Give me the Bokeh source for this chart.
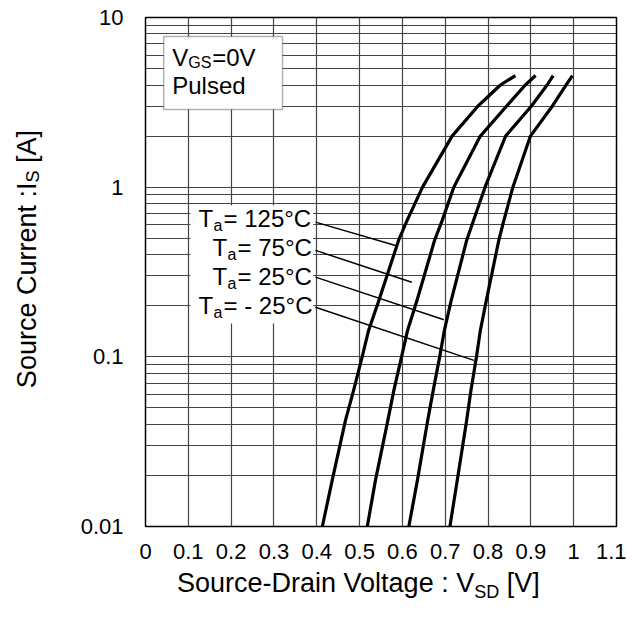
from bokeh.plotting import figure
from bokeh.models import Range1d, FixedTicker, Label, BoxAnnotation, Div
from bokeh.layouts import column, row
from bokeh.embed import file_html
from bokeh.resources import INLINE

# ---- data ----
current = [0.01, 0.0187, 0.0422, 0.0634, 0.1, 0.143, 0.215, 0.485, 0.637, 1.0, 2.0, 3.0, 4.0, 4.55]
v_125 = [0.413, 0.436, 0.467, 0.486, 0.506, 0.521, 0.545, 0.591, 0.611, 0.647, 0.716, 0.776, 0.829, 0.864]
v_75 = [0.518, 0.537, 0.566, 0.580, 0.598, 0.612, 0.634, 0.675, 0.693, 0.720, 0.782, 0.843, 0.887, 0.911]
v_25 = [0.615, 0.635, 0.659, 0.672, 0.687, 0.698, 0.714, 0.750, 0.766, 0.793, 0.841, 0.901, 0.938, 0.952]
v_m25 = [0.711, 0.728, 0.750, 0.760, 0.773, 0.782, 0.796, 0.825, 0.837, 0.858, 0.899, 0.950, 0.982, 0.997]

temps = ["125", "75", "25", "- 25"]

x_ticks = [0, 0.1, 0.2, 0.3, 0.4, 0.5, 0.6, 0.7, 0.8, 0.9, 1, 1.1]
x_tick_labels = ["0", "0.1", "0.2", "0.3", "0.4", "0.5", "0.6", "0.7", "0.8", "0.9", "1", "1.1"]
y_ticks = [0.01, 0.1, 1, 10]
y_tick_labels = ["0.01", "0.1", "1", "10"]

x_title = ("Source-Drain Voltage : V", "SD", " [V]")
y_title = ("Source Current :I", "S", " [A]")

# label anchor positions (annotation layout)
label_x = [0.1238, 0.1565, 0.1565, 0.1238]
label_y = [0.651, 0.443, 0.298, 0.201]
lead_x0 = [0.397, 0.397, 0.397, 0.397]
lead_y0 = [0.622, 0.424, 0.295, 0.196]
lead_x1 = [0.584, 0.622, 0.697, 0.767]
lead_y1 = [0.453, 0.275, 0.1655, 0.0953]

FONT = "Liberation Sans"
GRID = "#444444"

p = figure(width=566, height=566, x_range=Range1d(0, 1.1), y_range=Range1d(0.01, 10),
           y_axis_type="log", output_backend="svg", toolbar_location=None,
           min_border_left=85, min_border_right=10, min_border_top=17, min_border_bottom=40)

p.outline_line_color = "black"
p.outline_line_width = 1.5

# axes
p.xaxis.ticker = FixedTicker(ticks=x_ticks)
p.xaxis.major_label_overrides = {t: l for t, l in zip(x_ticks, x_tick_labels)}
minor = [m * 10.0 ** e for e in (-2, -1, 0) for m in range(2, 10)]
p.yaxis.ticker = FixedTicker(ticks=y_ticks, minor_ticks=minor)
p.yaxis.major_label_overrides = {t: l for t, l in zip(y_ticks, y_tick_labels)}
for ax in (p.xaxis, p.yaxis):
    ax.axis_line_color = None
    ax.major_tick_line_color = None
    ax.minor_tick_line_color = None
    ax.major_tick_out = 0
    ax.major_tick_in = 0
    ax.minor_tick_out = 0
    ax.major_label_text_font = FONT
    ax.major_label_text_font_size = "22px"
    ax.major_label_text_color = "black"
p.xaxis.major_label_standoff = 17
p.yaxis.major_label_standoff = 22

p.xgrid.ticker = FixedTicker(ticks=x_ticks)
p.xgrid.grid_line_color = GRID
p.xgrid.grid_line_width = 1.2
p.ygrid.grid_line_color = GRID
p.ygrid.grid_line_width = 1.2
p.ygrid.minor_grid_line_color = GRID
p.ygrid.minor_grid_line_width = 1.2

# curves
for v in (v_125, v_75, v_25, v_m25):
    p.line(v, current, line_color="black", line_width=3.2, line_join="round")

# leader lines
p.segment(lead_x0, lead_y0, lead_x1, lead_y1, line_color="black", line_width=1.5)

# white block behind temperature labels
p.add_layout(BoxAnnotation(left=0.105, right=0.392, bottom=0.157, top=0.78,
                           fill_color="white", fill_alpha=1.0, line_color=None))

# VGS box
p.add_layout(BoxAnnotation(left=0.0425, right=0.32, bottom=2.87, top=7.73,
                           fill_color="white", fill_alpha=1.0, line_color="black", line_width=1.5))


def lab(x, y, text, size, align="left", x_offset=0):
    p.add_layout(Label(x=x, y=y, text=text, text_font=FONT, text_font_size=f"{size}px",
                       text_align=align, text_baseline="alphabetic",
                       x_offset=x_offset, text_color="black"))


lab(0.0624, 5.83, "V", 24)
lab(0.0624, 5.46, "GS", 16, x_offset=16)
lab(0.0624, 5.83, "=0V", 24, x_offset=40)
lab(0.0624, 3.97, "Pulsed", 24)

for tx, ty, t in zip(label_x, label_y, temps):
    lab(tx, ty, "T", 24)
    lab(tx, ty * 0.909, "a", 16, x_offset=15)
    lab(tx, ty, "= " + t + "\u00b0C", 24, x_offset=25)

# axis titles as HTML (with real subscripts)
font_css = "font-family:'Liberation Sans',Arial,sans-serif;font-size:27px;color:#000;white-space:nowrap;"
sub_css = "font-size:18px;line-height:0;"
ydiv = Div(
    text=(f'<div style="display:inline-block;margin-left:12px;margin-top:130px;'
          f'writing-mode:vertical-rl;transform:rotate(180deg);line-height:30px;{font_css}">'
          f'{y_title[0]}<sub style="{sub_css}">{y_title[1]}</sub>{y_title[2]}</div>'),
    width=60, height=566, margin=0)
xdiv = Div(
    text=(f'<div style="padding-left:177px;padding-top:2px;line-height:30px;{font_css}">'
          f'{x_title[0]}<sub style="{sub_css}">{x_title[1]}</sub>{x_title[2]}</div>'),
    width=626, height=50, margin=0)

layout = column(row(ydiv, p), xdiv)
open("out.html", "w").write(file_html(layout, INLINE))
